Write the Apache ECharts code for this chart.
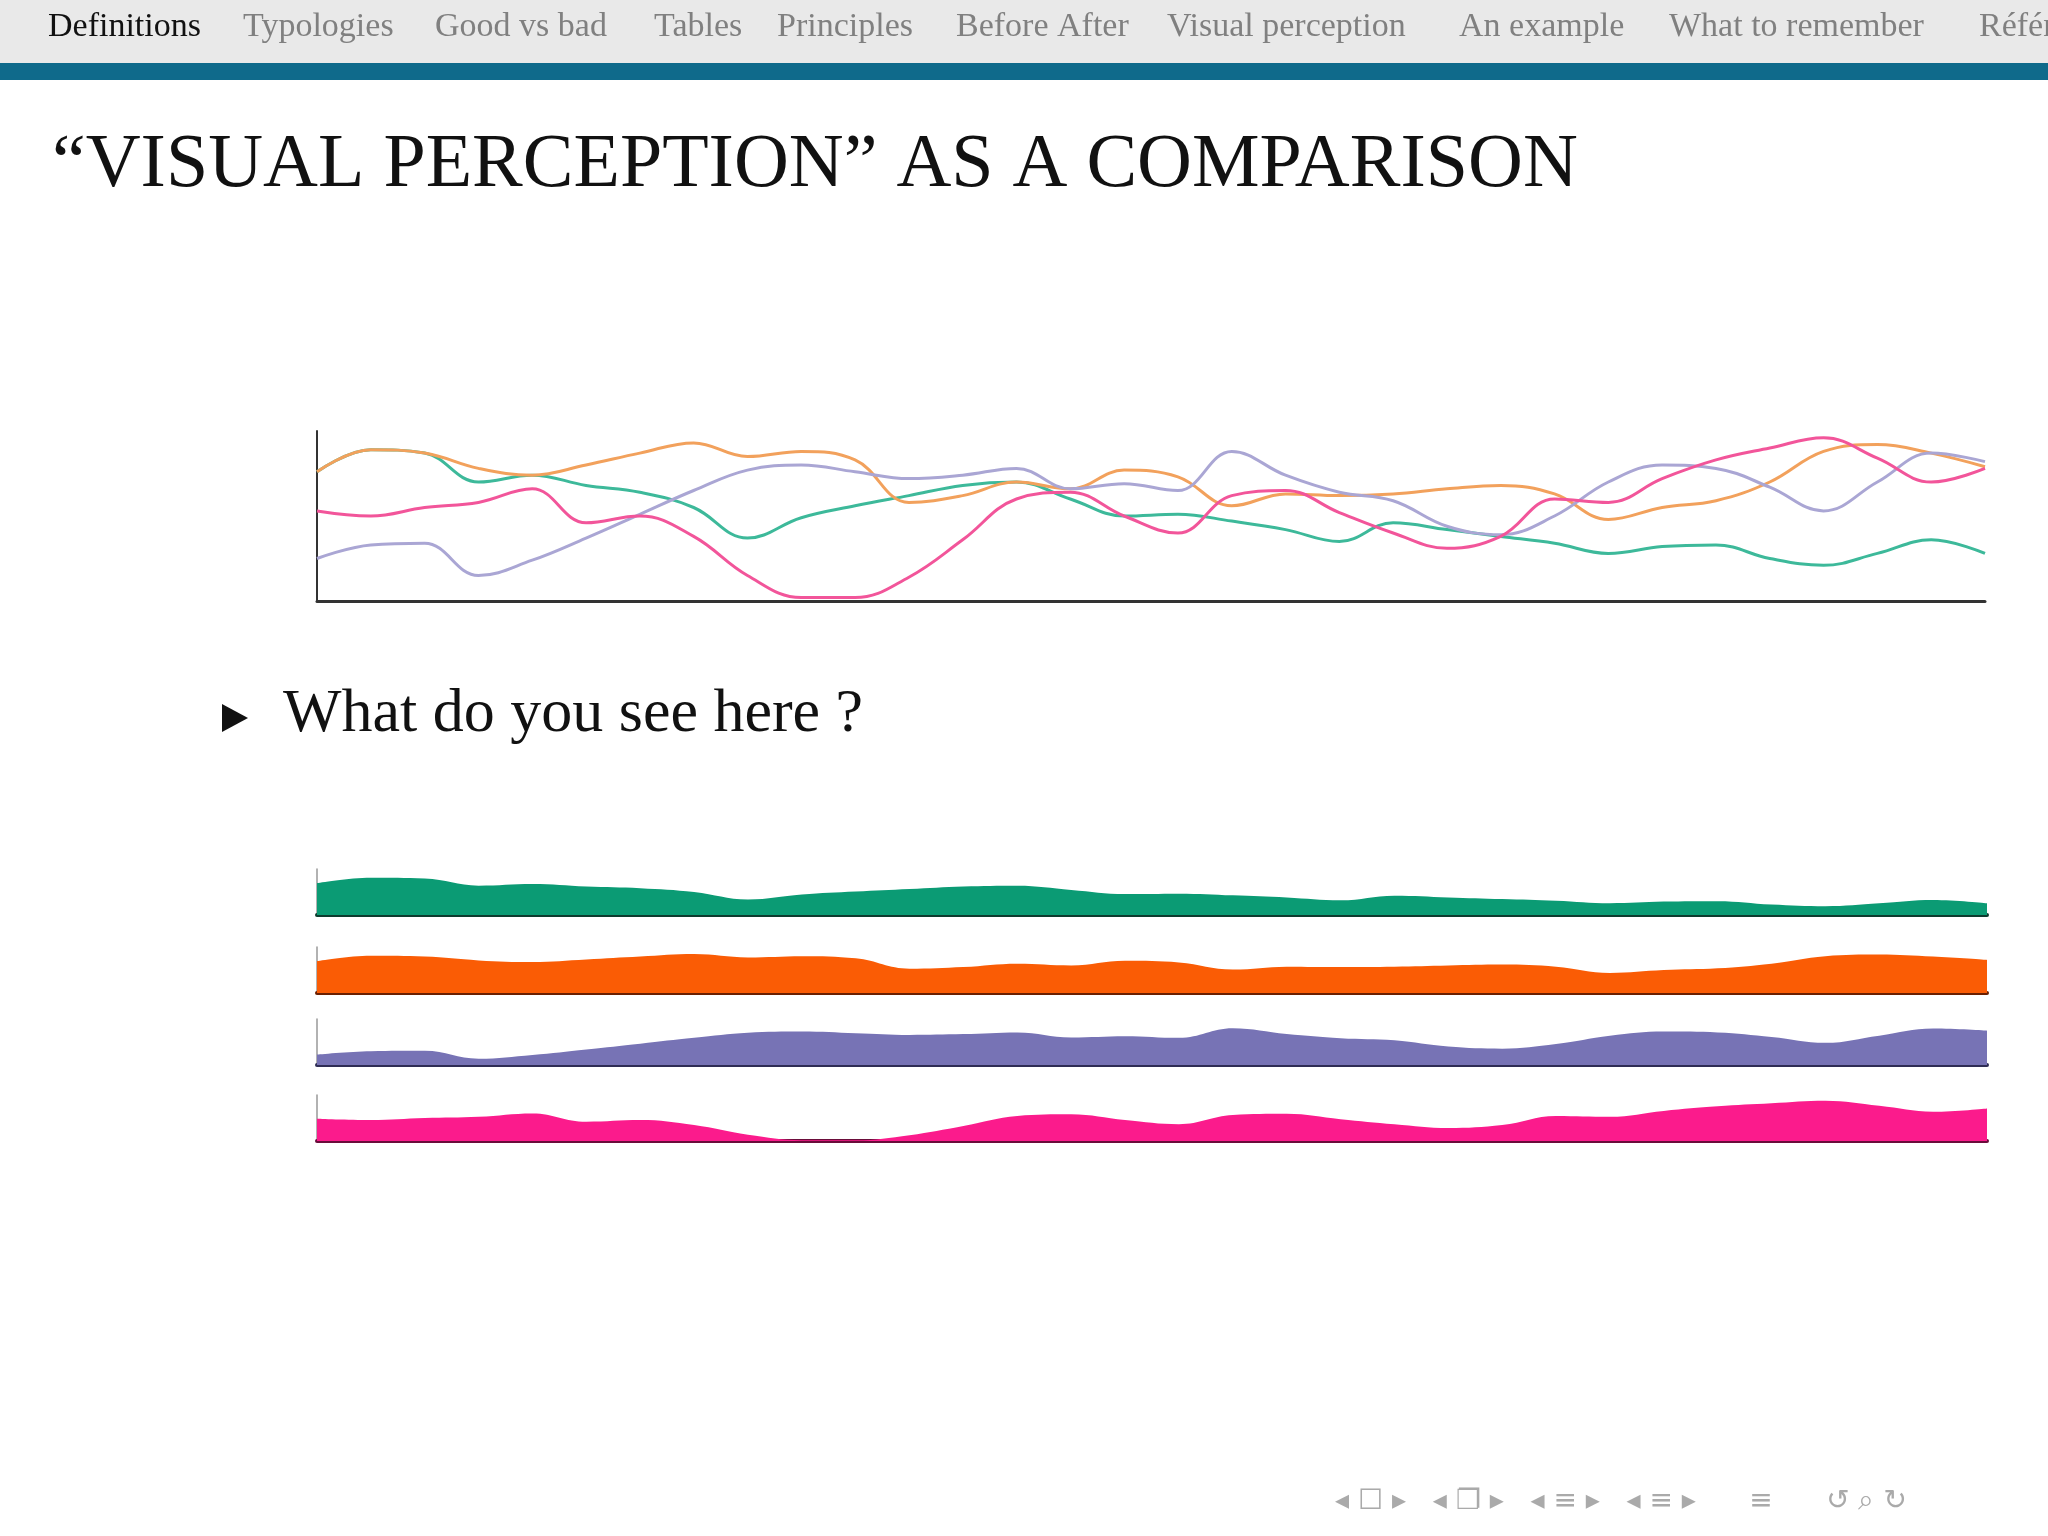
<!DOCTYPE html>
<html>
<head>
<meta charset="utf-8">
<script src="https://cdn.jsdelivr.net/npm/echarts@6/dist/echarts.min.js"></script>
<style>
html,body{margin:0;padding:0;background:#fff;}
#main{width:2048px;height:1536px;}
</style>
</head>
<body>
<div id="main"></div>
<script>
// data (0-100 scale)
var steps = [];
for (var i = 0; i < 32; i++) { steps.push(i); }
var green  = [76,89,87,70,74,68,64,55,37,49,56,62,68,70,60,50,51,47,42,35,46,42,38,34,28,32,33,25,21,28,36,28];
var orange = [76,89,87,78,74,80,87,93,85,88,83,58,62,70,66,77,73,56,63,62,63,66,68,63,48,55,59,70,88,92,87,79];
var purple = [25,33,34,15,24,37,51,65,77,80,76,72,74,78,66,69,65,88,74,64,59,44,39,50,70,80,78,67,53,70,87,82];
var pink   = [53,50,55,58,66,46,50,38,15,2,2,14,36,60,64,50,40,62,65,52,40,31,38,60,58,72,83,90,96,84,70,78];
var navItems = ['Definitions','Typologies','Good vs bad','Tables','Principles','Before After','Visual perception','An example','What to remember','Références'];
var navX = [48,243,435,654,777,956,1167,1459,1669,1979];

var lineColors = ['#3db99a','#f2a15c','#aaa6d4','#f2559a'];
var areaColors = ['#0b9b74','#fa5c05','#7773b5','#fb1b8c'];
var baseColors = ['#0d3b2e','#6b1f00','#2f2d55','#6a0c3a'];
var allData = [green, orange, purple, pink];
var areaTop = [869, 947, 1019, 1095];
var areaH = 46;

var chart = echarts.init(document.getElementById('main'));

var grids = [{left:317, right:63, top:431, height:170}];
var xAxes = [{gridIndex:0, type:'category', data:steps, boundaryGap:false,
  axisLine:{lineStyle:{color:'#333',width:3}}, axisTick:{show:false}, axisLabel:{show:false}}];
var yAxes = [{gridIndex:0, type:'value', min:0, max:100,
  axisLine:{show:true,lineStyle:{color:'#333',width:2}}, axisTick:{show:false}, axisLabel:{show:false}, splitLine:{show:false}}];
var series = [];
allData.forEach(function(d, k){
  series.push({type:'line', xAxisIndex:0, yAxisIndex:0, data:d, smooth:0.4, symbol:'none',
    lineStyle:{color:lineColors[k], width:3}});
});
allData.forEach(function(d, k){
  var g = k + 1;
  grids.push({left:317, right:61, top:areaTop[k], height:areaH});
  xAxes.push({gridIndex:g, type:'category', data:steps, boundaryGap:false,
    axisLine:{lineStyle:{color:baseColors[k],width:4}}, axisTick:{show:false}, axisLabel:{show:false}});
  yAxes.push({gridIndex:g, type:'value', min:0, max:110,
    axisLine:{show:true,lineStyle:{color:'#999',width:1.5}}, axisTick:{show:false}, axisLabel:{show:false}, splitLine:{show:false}});
  series.push({type:'line', xAxisIndex:g, yAxisIndex:g, data:d, smooth:0.4, symbol:'none',
    lineStyle:{width:0}, areaStyle:{color:areaColors[k], opacity:1}});
});

var graphic = [
  {type:'rect', shape:{x:0,y:0,width:2048,height:63}, style:{fill:'#e9e9e9'}},
  {type:'rect', shape:{x:0,y:63,width:2048,height:17}, style:{fill:'#0f6a8b'}},
  {type:'text', left:52, top:128, style:{text:'“VISUAL PERCEPTION” AS A COMPARISON',
    font:'76px "Liberation Serif", "DejaVu Serif", serif', fill:'#111'}},
  {type:'polygon', shape:{points:[[222,704],[248,718],[222,732]]}, style:{fill:'#111'}},
  {type:'text', left:283, top:684, style:{text:'What do you see here ?',
    font:'62px "Liberation Serif", "DejaVu Serif", serif', fill:'#111'}},
  {type:'text', left:1335, top:1488, style:{text:'◂ ☐ ▸   ◂ ❐ ▸   ◂ ≡ ▸   ◂ ≡ ▸      ≡      ↺ ⌕ ↻',
    font:'28px "DejaVu Sans", sans-serif', fill:'#aaa'}}
];
navItems.forEach(function(t, i){
  graphic.push({type:'text', left:navX[i], top:10, style:{text:t,
    font:'34px "Liberation Serif", "DejaVu Serif", serif', fill: i === 0 ? '#111' : '#808080'}});
});

chart.setOption({
  animation:false,
  grid:grids, xAxis:xAxes, yAxis:yAxes, series:series, graphic:graphic
});
</script>
</body>
</html>
